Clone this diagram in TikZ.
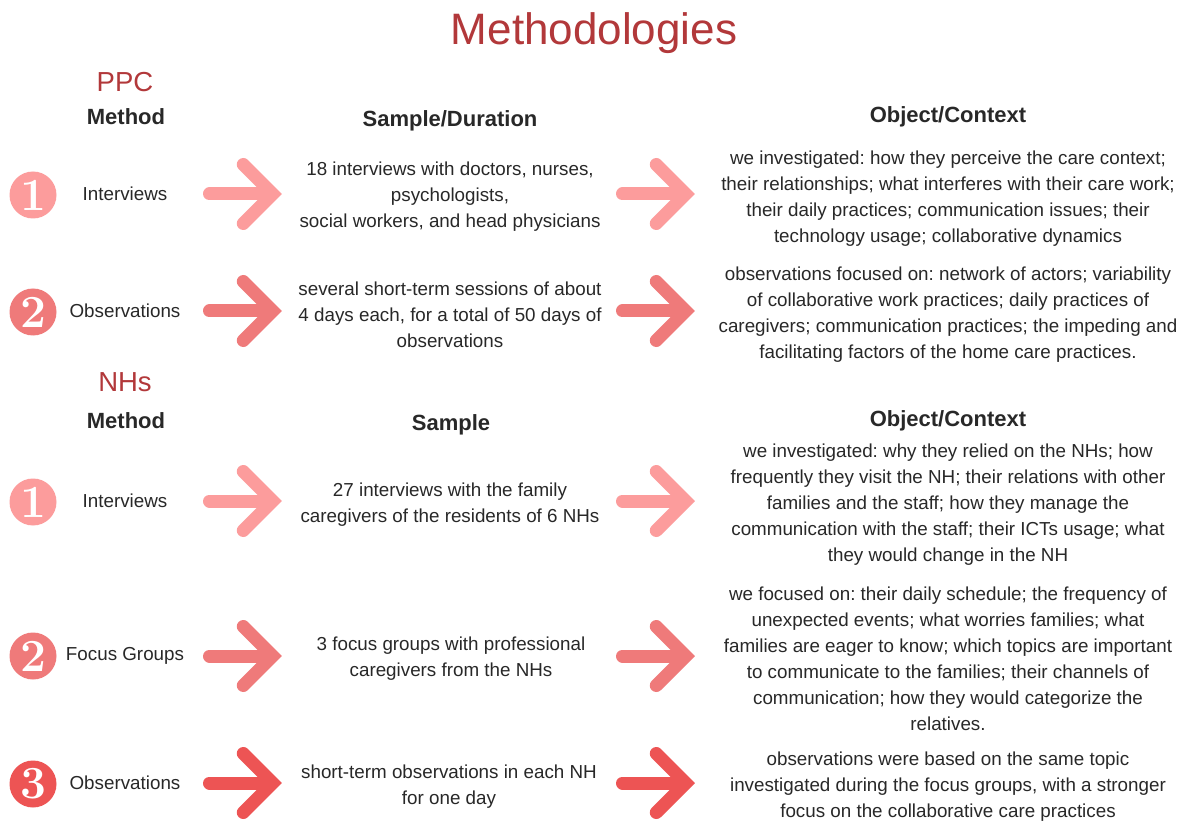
\documentclass[tikz,border=0pt]{standalone}
\usepackage{fontspec}
\setmainfont{Liberation Sans}
\newfontfamily\digitfont{Latin Modern Roman}
\frenchspacing
\definecolor{cA}{RGB}{252,156,156}
\definecolor{cB}{RGB}{239,122,122}
\definecolor{cC}{RGB}{237,84,84}
\definecolor{titlered}{RGB}{178,56,58}
\definecolor{txt}{RGB}{40,40,40}
\tikzset{
  x=1pt, y=-1pt,
  body/.style={align=center, text=txt, inner sep=0pt, yshift=-2.5pt, font=\fontsize{18.8}{26}\selectfont\frenchspacing},
  methodlabel/.style={text=txt, inner sep=0pt, font=\fontsize{18.8}{26}\selectfont},
  head/.style={text=txt, inner sep=0pt, font=\fontsize{22}{26}\selectfont\bfseries},
  group/.style={text=titlered, inner sep=0pt, font=\fontsize{27.5}{30}\selectfont},
  numdisc/.style={circle, fill=#1, minimum size=47pt, inner sep=0pt, text=white, font=\fontsize{46}{46}\digitfont\bfseries},
  pics/bigarrow/.style={code={
    \draw[#1, line width=13pt, line cap=round] (-33,0) -- (29,0);
    \draw[#1, line width=13pt, line cap=round, line join=miter] (0.8,-29.5) -- (30.3,0) -- (0.8,29.5);
  }}
}
\begin{document}
\begin{tikzpicture}
\useasboundingbox[fill=white] (0,0) rectangle (1187,821);
\node[text=titlered, inner sep=0pt, font=\fontsize{44}{48}\selectfont] (title) at (594,33) {Methodologies};

% PPC section
\node[group] (ppc) at (125,82) {PPC};
\node[head] (m1) at (126,117) {Method};
\node[head] (sd) at (450,121) {Sample/Duration};
\node[head] (oc1) at (948,117) {Object/Context};

\node[numdisc=cA] (p1n) at (33,195) {1};
\node[methodlabel] (p1m) at (125,194) {Interviews};
\pic at (242.5,194) {bigarrow=cA};
\node[body] (p1s) at (450,194) {18 interviews with doctors, nurses,\\psychologists,\\social workers, and head physicians};
\pic at (655.5,194) {bigarrow=cA};
\node[body] (p1o) at (948,196) {we investigated: how they perceive the care context;\\their relationships; what interferes with their care work;\\their daily practices; communication issues; their\\technology usage; collaborative dynamics};

\node[numdisc=cB] (p2n) at (33,312) {2};
\node[methodlabel] (p2m) at (125,311) {Observations};
\pic at (242.5,311) {bigarrow=cB};
\node[body] (p2s) at (450,312) {several short-term sessions of about\\4 days each, for a total of 50 days of\\observations};
\pic at (655.5,311) {bigarrow=cB};
\node[body] (p2o) at (948,312) {observations focused on: network of actors; variability\\of collaborative work practices; daily practices of\\caregivers; communication practices; the impeding and\\facilitating factors of the home care practices.};

% NH section
\node[group] (nh) at (125,382) {NHs};
\node[head] (m2) at (126,421) {Method};
\node[head] (sa) at (451,425) {Sample};
\node[head] (oc2) at (948,421) {Object/Context};

\node[numdisc=cA] (n1n) at (33,502) {1};
\node[methodlabel] (n1m) at (125,501) {Interviews};
\pic at (242.5,501) {bigarrow=cA};
\node[body] (n1s) at (450,502) {27 interviews with the family\\caregivers of the residents of 6 NHs};
\pic at (655.5,501) {bigarrow=cA};
\node[body] (n1o) at (948,502) {we investigated: why they relied on the NHs; how\\frequently they visit the NH; their relations with other\\families and the staff; how they manage the\\communication with the staff; their ICTs usage; what\\they would change in the NH};

\node[numdisc=cB] (n2n) at (33,656) {2};
\node[methodlabel] (n2m) at (125,656) {Focus Groups};
\pic at (242.5,656) {bigarrow=cB};
\node[body] (n2s) at (451,656) {3 focus groups with professional\\caregivers from the NHs};
\pic at (655.5,656) {bigarrow=cB};
\node[body] (n2o) at (948,656) {we focused on: their daily schedule; the frequency of\\unexpected events; what worries families; what\\families are eager to know; which topics are important\\to communicate to the families; their channels of\\communication; how they would categorize the\\relatives.};

\node[numdisc=cC] (n3n) at (33,784) {3};
\node[methodlabel] (n3m) at (125,783) {Observations};
\pic at (242.5,783) {bigarrow=cC};
\node[body] (n3s) at (449,784) {short-term observations in each NH\\for one day};
\pic at (655.5,783) {bigarrow=cC};
\node[body] (n3o) at (948,784) {observations were based on the same topic\\investigated during the focus groups, with a stronger\\focus on the collaborative care practices};
\end{tikzpicture}
\end{document}
